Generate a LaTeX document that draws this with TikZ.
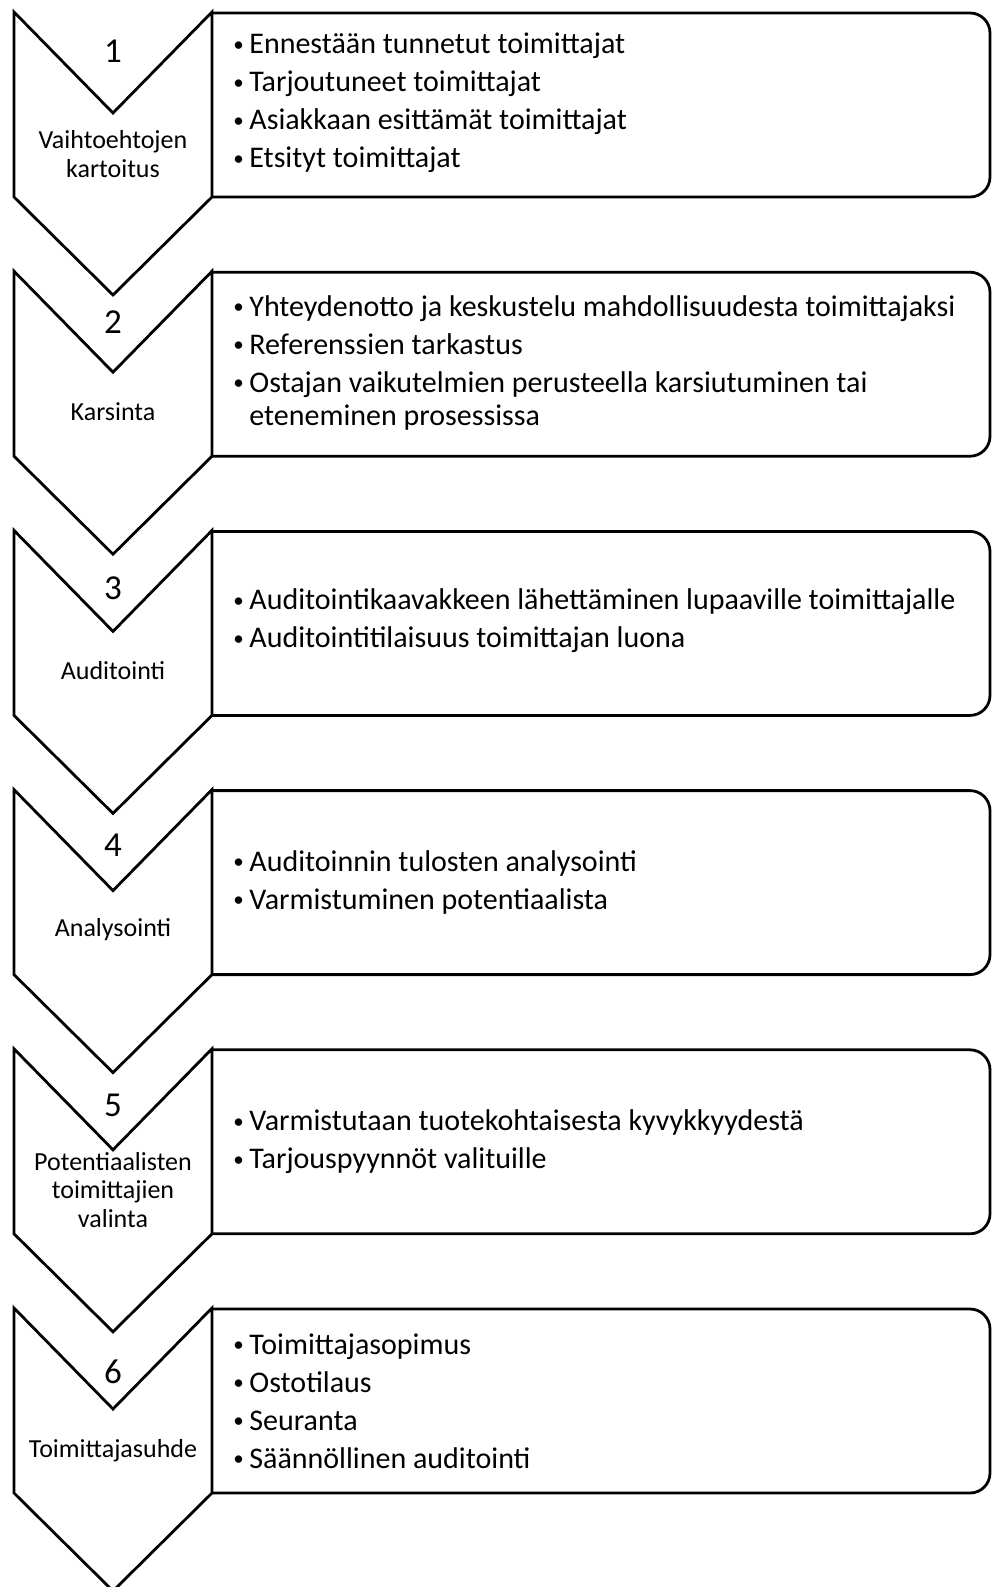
\documentclass[tikz,border=0pt]{standalone}
\usepackage{fontspec}
\setmainfont{Carlito}
\usetikzlibrary{positioning}
\tikzset{
  chevron/.style={
    draw,
    line width=1.4pt,
    line join=miter,
    fill=white
  },
  infobox/.style={
    draw,
    line width=1.4pt
  },
  stepnum/.style={
    inner sep=0pt,
    font=\fontsize{17.5}{20}\selectfont
  },
  steplabel/.style={
    inner sep=0pt,
    align=center,
    font=\fontsize{13}{14.2}\selectfont
  },
  itemlist/.style={
    inner sep=0pt,
    anchor=west,
    align=left,
    font=\fontsize{15}{16.7}\selectfont
  }
}
\newcommand\bul{\makebox[8pt][l]{\raisebox{0.08em}{\scalebox{0.7}{\textbullet}}}}

\begin{document}
\begin{tikzpicture}[x=0.5pt, y=-0.5pt]
  \useasboundingbox (0,0) rectangle (992,1587);

  % six steps: box first, chevron on top
  \foreach \i in {0,...,5} {
    \pgfmathsetmacro{\ytop}{12+259.2*\i}
    \draw[infobox] (212,\ytop+1) -- (970,\ytop+1)
      arc[start angle=90, end angle=0, radius=10pt] -- (990,\ytop+165)
      arc[start angle=0, end angle=-90, radius=10pt] -- (212,\ytop+185);
    \draw[chevron] (14,\ytop) -- (113,\ytop+101) -- (212,\ytop) -- (212,\ytop+185)
      -- (113,\ytop+283) -- (14,\ytop+185) -- cycle;
  }

  \node[stepnum] (n1) at (113,51) {1};
  \node[stepnum] (n2) at (113,322) {2};
  \node[stepnum] (n3) at (113,588) {3};
  \node[stepnum] (n4) at (113,845) {4};
  \node[stepnum] (n5) at (113,1105) {5};
  \node[stepnum] (n6) at (113,1372) {6};

  \node[steplabel] (l1) at (113,154) {Vaihtoehtojen\\kartoitus};
  \node[steplabel] (l2) at (113,412) {Karsinta};
  \node[steplabel] (l3) at (113,671) {Auditointi};
  \node[steplabel] (l4) at (113,930) {Analysointi};
  \node[steplabel] (l5) at (113,1190) {Potentiaalisten\\toimittajien\\valinta};
  \node[steplabel] (l6) at (113,1451) {Toimittajasuhde};

  \node[itemlist] (k1) at (233,103) {\bul Ennestään tunnetut toimittajat\\[2.3pt]
    \bul Tarjoutuneet toimittajat\\[2.3pt]
    \bul Asiakkaan esittämät toimittajat\\[2.3pt]
    \bul Etsityt toimittajat};
  \node[itemlist] (k2) at (233,363) {\bul Yhteydenotto ja keskustelu mahdollisuudesta toimittajaksi\\[2.3pt]
    \bul Referenssien tarkastus\\[2.3pt]
    \bul Ostajan vaikutelmien perusteella karsiutuminen tai\\
    \hspace*{8pt}eteneminen prosessissa};
  \node[itemlist] (k3) at (233,621) {\bul Auditointikaavakkeen lähettäminen lupaaville toimittajalle\\[2.3pt]
    \bul Auditointitilaisuus toimittajan luona};
  \node[itemlist] (k4) at (233,882) {\bul Auditoinnin tulosten analysointi\\[2.3pt]
    \bul Varmistuminen potentiaalista};
  \node[itemlist] (k5) at (233,1142) {\bul Varmistutaan tuotekohtaisesta kyvykkyydestä\\[2.3pt]
    \bul Tarjouspyynnöt valituille};
  \node[itemlist] (k6) at (233,1401) {\bul Toimittajasopimus\\[2.3pt]
    \bul Ostotilaus\\[2.3pt]
    \bul Seuranta\\[2.3pt]
    \bul Säännöllinen auditointi};
\end{tikzpicture}
\end{document}
